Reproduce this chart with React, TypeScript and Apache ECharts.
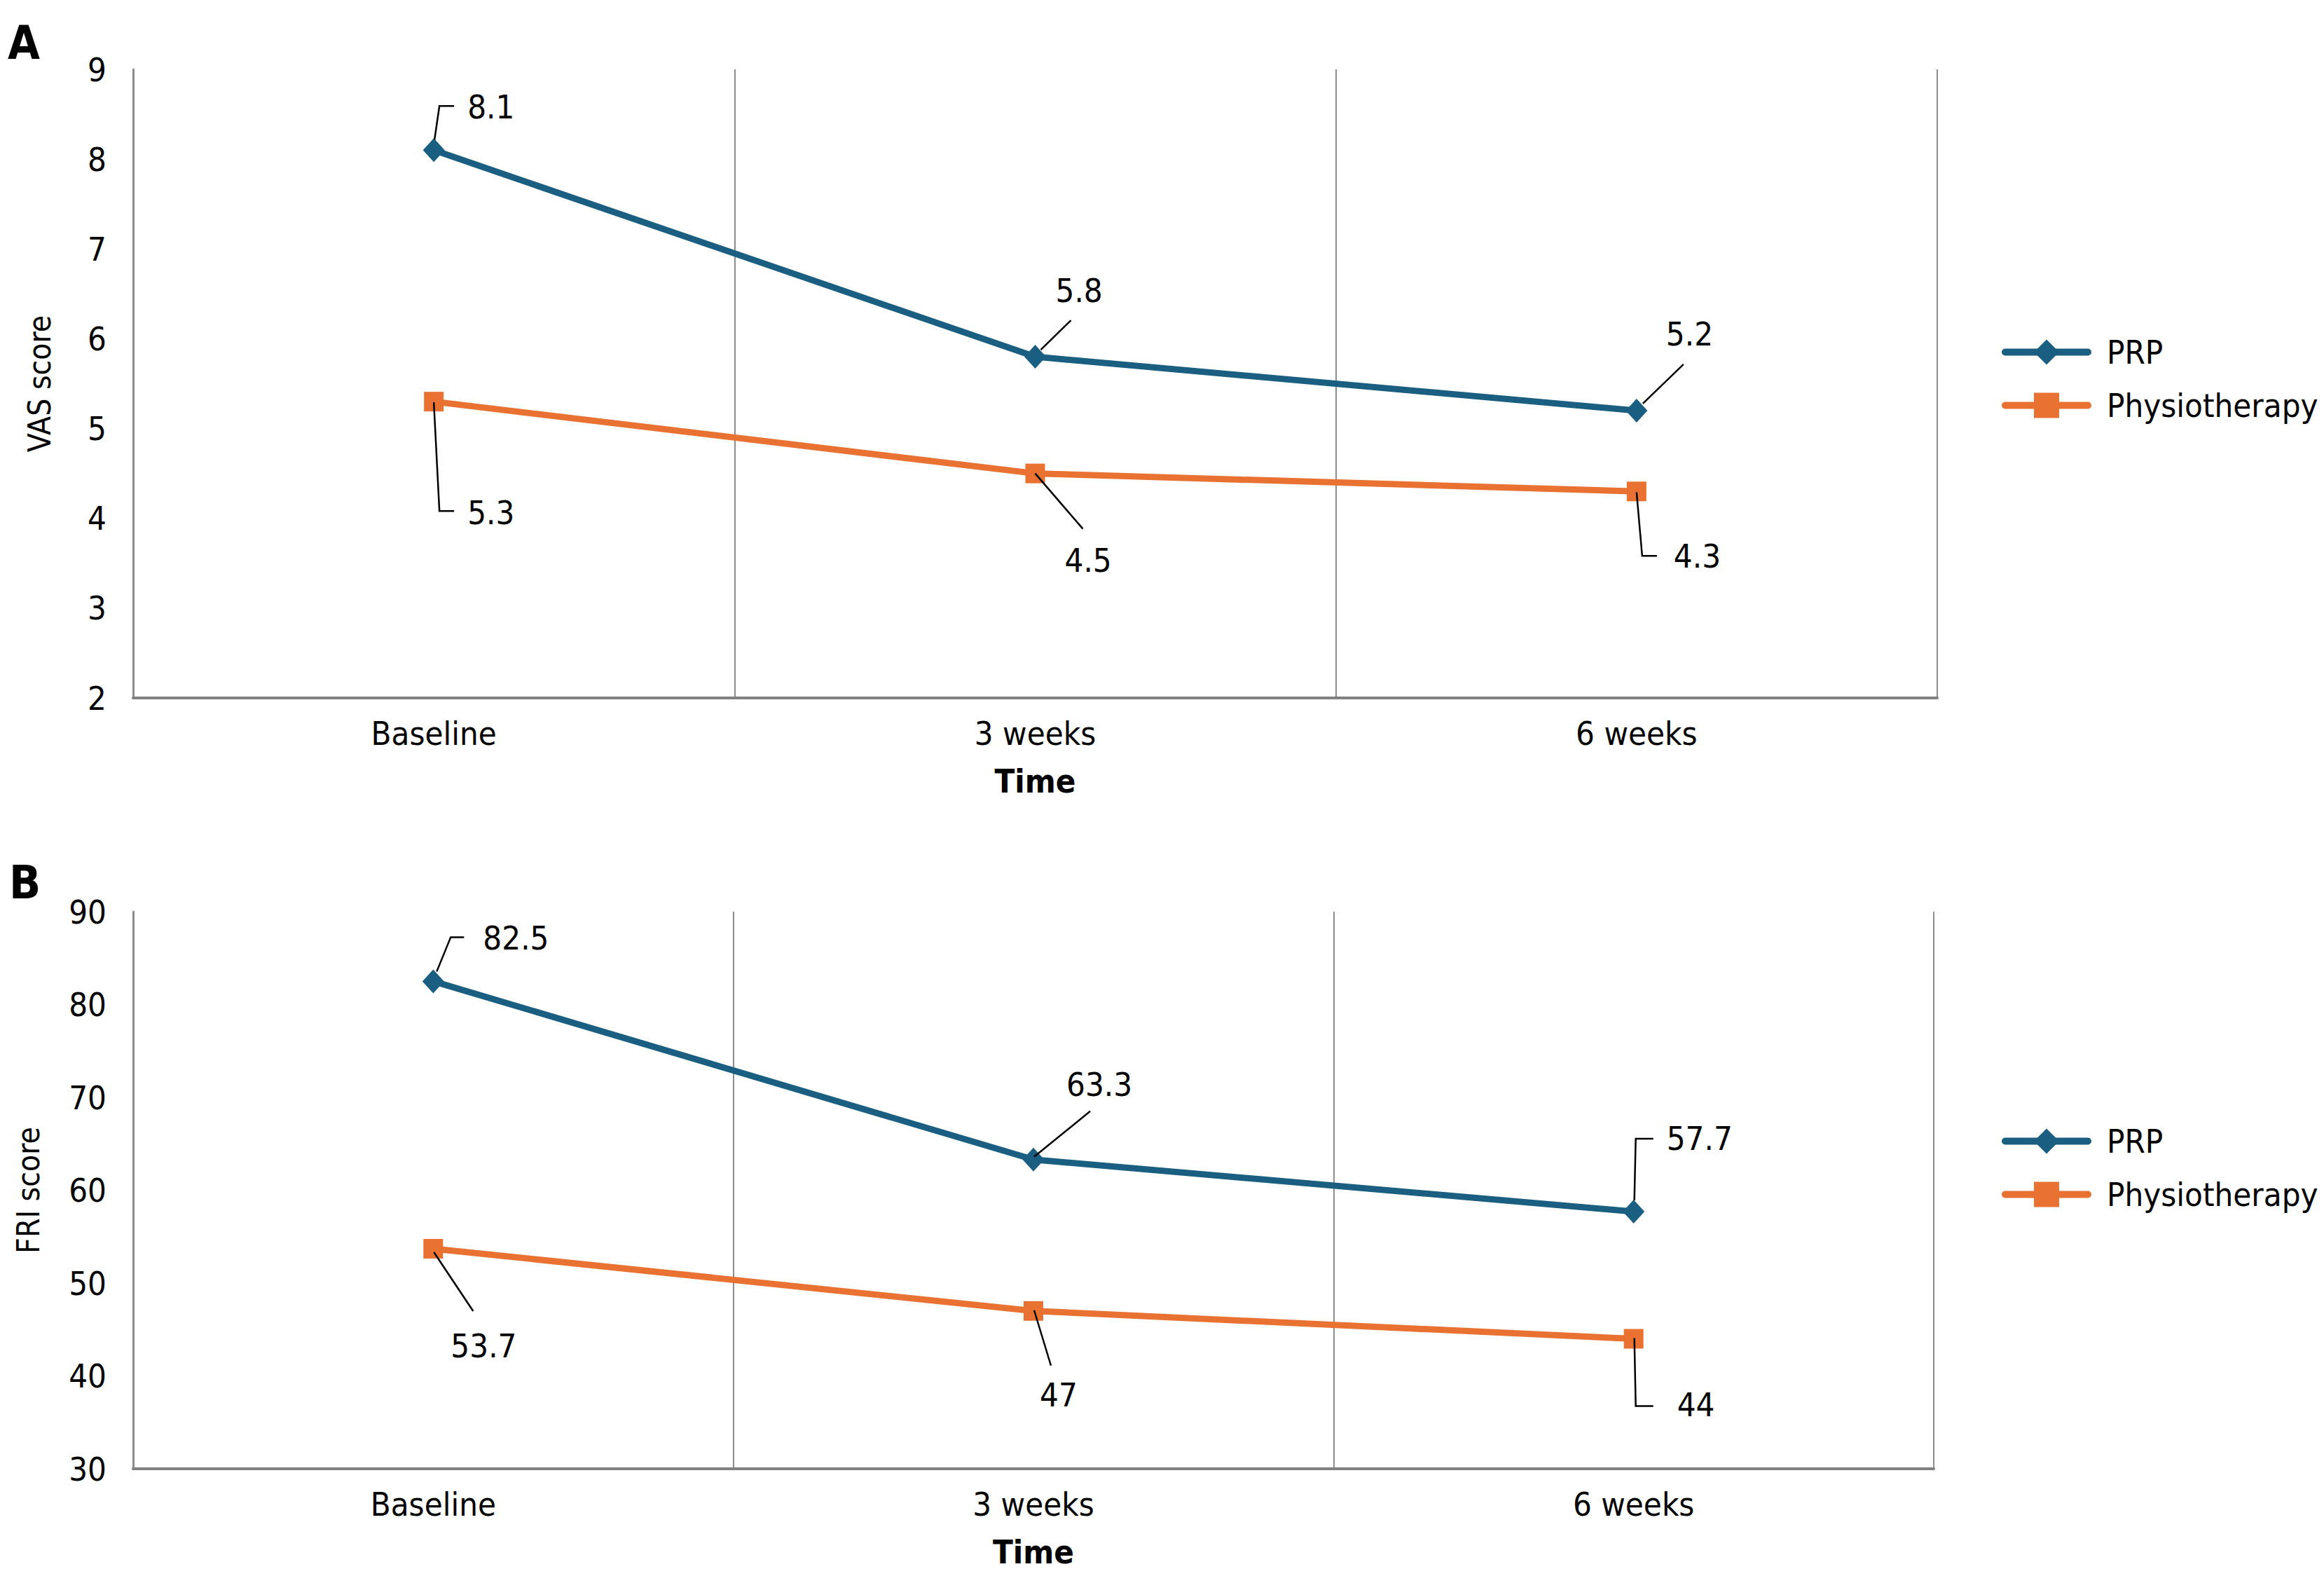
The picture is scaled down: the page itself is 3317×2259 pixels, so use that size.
import React, { useEffect, useRef } from "react";
import * as echarts from "echarts";

const categories = ["Baseline", "3 weeks", "6 weeks"];
const vasPRP = [8.1, 5.8, 5.2];
const vasPhysio = [5.3, 4.5, 4.3];
const friPRP = [82.5, 63.3, 57.7];
const friPhysio = [53.7, 47, 44];
const seriesNames = ["PRP", "Physiotherapy"];

// label text anchor (left, middle) relative to the point, px
const txtVasPRP = [[48, -62], [29, -95], [42, -109]];
const txtVasPhysio = [[48, 158], [42, 124], [53, 92]];
const txtFriPRP = [[71, -62], [47, -107], [47, -104]];
const txtFriPhysio = [[25, 139], [9, 120], [62, 94]];
// leader polylines relative to the point, px
const leadVasPRP = [[[1, -15], [8, -63], [29, -63]], [[8, -10], [51, -52]], [[9, -10], [67, -66]]];
const leadVasPhysio = [[[0, 1], [8, 156], [29, 156]], [[0, 0], [68, 79]], [[0, 1], [8, 92], [29, 92]]];
const leadFriPRP = [[[5, -14], [25, -63], [44, -63]], [[1, -4], [81, -69]], [[1, -16], [3, -104], [28, -104]]];
const leadFriPhysio = [[[1, 5], [57, 89]], [[1, -1], [25, 78]], [[1, -1], [3, 96], [28, 96]]];

const BLUE = "#1A5E82";
const ORANGE = "#E97132";
const GRID = "#8C8C8C";
const FONT = "'DejaVu Sans Condensed', 'DejaVu Sans', sans-serif";
const FS = 47;

export default function App() {
  const ref = useRef<HTMLDivElement>(null);
  useEffect(() => {
    document.body.style.margin = "0";
    const chart = echarts.init(ref.current!, null, { renderer: "svg" });

    const mkX = (gi: number) => ({
      type: "category",
      gridIndex: gi,
      data: categories,
      boundaryGap: true,
      name: "Time",
      nameLocation: "middle",
      nameGap: 95,
      nameTextStyle: { fontFamily: FONT, fontSize: FS, fontWeight: "bold", color: "#000" },
      axisLine: { show: true, lineStyle: { color: "#808080", width: 4 } },
      axisTick: { show: false },
      axisLabel: { fontFamily: FONT, fontSize: FS, color: "#000", margin: 27 },
      splitLine: { show: true, lineStyle: { color: GRID, width: 2 } },
    });
    const mkY = (gi: number, min: number, max: number, interval: number, name: string, gap: number) => ({
      type: "value",
      gridIndex: gi,
      min,
      max,
      interval,
      name,
      nameLocation: "middle",
      nameGap: gap,
      nameTextStyle: { fontFamily: FONT, fontSize: 44, color: "#000" },
      axisLine: { show: true, lineStyle: { color: GRID, width: 3 } },
      axisTick: { show: false },
      axisLabel: { fontFamily: FONT, fontSize: FS, color: "#000", margin: 38 },
      splitLine: { show: false },
    });
    const mkS = (name: string, gi: number, data: number[], color: string, symbol: string, symbolSize: any) => ({
      type: "line",
      name,
      xAxisIndex: gi,
      yAxisIndex: gi,
      data,
      symbol,
      symbolSize,
      lineStyle: { color, width: 9 },
      itemStyle: { color },
      z: 2,
    });
    const mkLabels = (id: string, gi: number, data: number[], txt: number[][], lead: number[][][]) => ({
      type: "custom",
      name: id,
      coordinateSystem: "cartesian2d",
      xAxisIndex: gi,
      yAxisIndex: gi,
      z: 5,
      silent: true,
      data: data.map((v, i) => [i, v]),
      renderItem: (params: any, api: any) => {
        const i = params.dataIndex;
        const pt = api.coord([api.value(0), api.value(1)]);
        return {
          type: "group",
          children: [
            {
              type: "polyline",
              shape: { points: lead[i].map((o) => [pt[0] + o[0], pt[1] + o[1]]) },
              style: { stroke: "#000", lineWidth: 2.5, fill: null },
            },
            {
              type: "text",
              x: pt[0] + txt[i][0],
              y: pt[1] + txt[i][1],
              style: {
                text: String(data[i]),
                fontFamily: FONT,
                fontSize: FS,
                fill: "#000",
                align: "left",
                verticalAlign: "middle",
              },
            },
          ],
        };
      },
    });
    const mkLegend = (top: number) => ({
      orient: "vertical",
      left: 2852,
      top,
      data: seriesNames,
      itemWidth: 118,
      itemHeight: 45,
      itemGap: 29,
      lineStyle: { width: 10, cap: "round" },
      textStyle: { fontFamily: FONT, fontSize: FS, color: "#000", padding: [0, 0, 0, 22] },
    });

    chart.setOption({
      animation: false,
      backgroundColor: "#fff",
      grid: [
        { left: 190, top: 99, width: 2575, height: 897, outerBoundsMode: "none" },
        { left: 190, top: 1301, width: 2570, height: 795, outerBoundsMode: "none" },
      ],
      legend: [mkLegend(474), mkLegend(1600)],
      xAxis: [mkX(0), mkX(1)],
      yAxis: [mkY(0, 2, 9, 1, "VAS score", 112), mkY(1, 30, 90, 10, "FRI score", 128)],
      graphic: [
        { type: "text", left: 11, top: 28, style: { text: "A", fontFamily: FONT, fontSize: 66, fontWeight: "bold", fill: "#000" } },
        { type: "text", left: 13, top: 1226, style: { text: "B", fontFamily: FONT, fontSize: 66, fontWeight: "bold", fill: "#000" } },
      ],
      series: [
        mkS("PRP", 0, vasPRP, BLUE, "diamond", [31, 34]),
        mkS("Physiotherapy", 0, vasPhysio, ORANGE, "rect", [28, 28]),
        mkS("PRP", 1, friPRP, BLUE, "diamond", [31, 34]),
        mkS("Physiotherapy", 1, friPhysio, ORANGE, "rect", [28, 28]),
        mkLabels("lblA1", 0, vasPRP, txtVasPRP, leadVasPRP),
        mkLabels("lblA2", 0, vasPhysio, txtVasPhysio, leadVasPhysio),
        mkLabels("lblB1", 1, friPRP, txtFriPRP, leadFriPRP),
        mkLabels("lblB2", 1, friPhysio, txtFriPhysio, leadFriPhysio),
      ],
    });
    return () => chart.dispose();
  }, []);
  return <div ref={ref} style={{ width: 3317, height: 2259 }} />;
}
